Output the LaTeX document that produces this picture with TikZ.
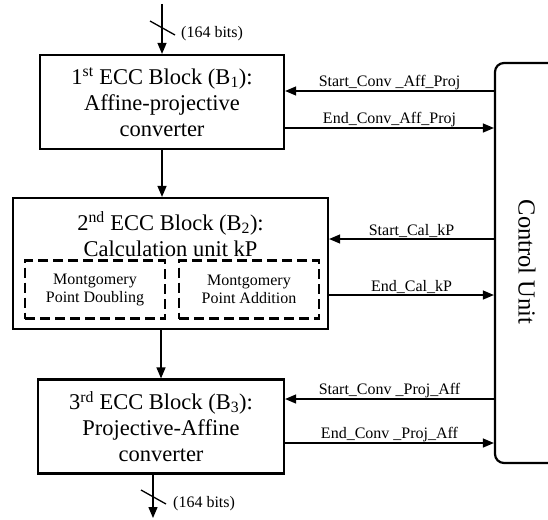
\documentclass[tikz,border=0pt]{standalone}
\usepackage{fontspec}
\setmainfont{Liberation Serif}
\usetikzlibrary{arrows.meta}

\begin{document}
\begin{tikzpicture}[x=1pt, y=-1pt,
        block/.style = {draw, line width=2.2pt, align=center, inner sep=0pt, font=\fontsize{22.5}{26}\selectfont},
        unit/.style = {draw, line width=2.2pt, dash pattern=on 10pt off 5pt, align=center, minimum width=140pt, minimum height=58pt, inner sep=0pt, font=\fontsize{16}{18}\selectfont},
        sig/.style = {line width=1.3pt, -{Triangle[length=11pt, width=9pt]}},
        lbl/.style = {above, inner sep=0.5pt, font=\fontsize{16}{18}\selectfont},
        bus/.style = {line width=1.3pt}]
        \useasboundingbox (0,0) rectangle (548,519);
        \node[block, minimum width=244pt, minimum height=94pt] (b1) at (162,102) {1\textsuperscript{st} ECC Block (B\textsubscript{1}):\\Affine-projective\\converter};
        \node[block, minimum width=315pt, minimum height=131pt] (b2) at (170.5,263.5) {};
        \node[align=center, inner sep=0pt, font=\fontsize{22.5}{26}\selectfont] (b2t) at (170.5,234) {2\textsuperscript{nd} ECC Block (B\textsubscript{2}):\\Calculation unit kP};
        \node[unit] (pd) at (95,289.5) {Montgomery\\Point Doubling};
        \node[unit] (pa) at (249,289.5) {Montgomery\\Point Addition};
        \node[block, minimum width=246pt, minimum height=94pt] (b3) at (161,426.5) {3\textsuperscript{rd} ECC Block (B\textsubscript{3}):\\Projective-Affine\\converter};
        \node[draw, line width=2.2pt, rounded corners=9pt, minimum width=110pt, minimum height=400pt] (cu) at (550,263) {};
        \node[rotate=-90, inner sep=0pt, font=\fontsize{24.5}{26}\selectfont] (cut) at (527,262) {Control Unit};
        % 164-bit input and output buses
        \coordinate (in) at (162,4);
        \coordinate (m1) at (162,28);
        \draw[sig] (in) -- (b1.north);
        \draw[bus] ([shift={(-12,-7)}]m1) -- ([shift={(13,7)}]m1);
        \node[anchor=west, inner sep=0pt, font=\fontsize{16}{18}\selectfont] (w1) at (181,34) {(164 bits)};
        \coordinate (out) at (153,518);
        \coordinate (m2) at (153,497);
        \draw[sig] (out |- b3.south) -- (out);
        \draw[bus] ([shift={(-12,-7)}]m2) -- ([shift={(13,7)}]m2);
        \node[anchor=west, inner sep=0pt, font=\fontsize{16}{18}\selectfont] (w2) at (173,504) {(164 bits)};
        \draw[sig] (b1.south) -- (b1.south |- b2.north);
        \draw[sig] (b3.north |- b2.south) -- (b3.north);
        % handshake signals with the control unit
        \coordinate (s1) at ([yshift=11pt]b1.east);
        \coordinate (e1) at ([yshift=-26pt]b1.east);
        \coordinate (s2) at ([yshift=24.5pt]b2.east);
        \coordinate (e2) at ([yshift=-31.5pt]b2.east);
        \coordinate (s3) at ([yshift=27.5pt]b3.east);
        \coordinate (e3) at ([yshift=-16.5pt]b3.east);
        \draw[sig] (cu.west |- s1) -- node[lbl] {Start\_Conv \_Aff\_Proj} (s1);
        \draw[sig] (e1) -- node[lbl] {End\_Conv\_Aff\_Proj} (cu.west |- e1);
        \draw[sig] (cu.west |- s2) -- node[lbl] {Start\_Cal\_kP} (s2);
        \draw[sig] (e2) -- node[lbl] {End\_Cal\_kP} (cu.west |- e2);
        \draw[sig] (cu.west |- s3) -- node[lbl] {Start\_Conv \_Proj\_Aff} (s3);
        \draw[sig] (e3) -- node[lbl] {End\_Conv \_Proj\_Aff} (cu.west |- e3);
\end{tikzpicture}
\end{document}
